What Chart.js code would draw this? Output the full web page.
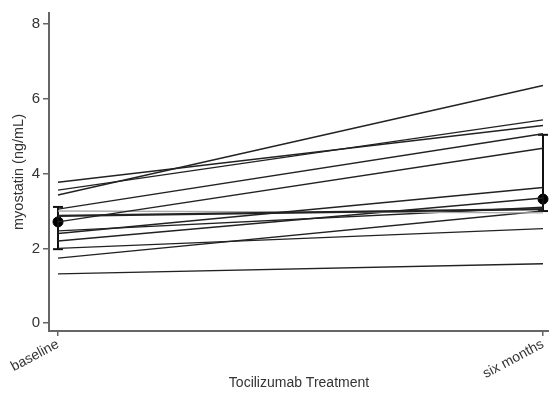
<!DOCTYPE html>
<html lang="en">
<head>
<meta charset="UTF-8">
<title>Myostatin</title>
<script src="https://cdn.jsdelivr.net/npm/chart.js@4.4.1/dist/chart.umd.min.js"></script>
<style>
    body { margin: 0; background: #fff; }
    .wrap { width: 549px; height: 395px; position: relative; }
</style>
</head>
<body>
<div class="wrap"><canvas id="c"></canvas></div>
<script>
    // categories (x = 0 baseline, x = 1 six months)
    const timepoints = ['baseline', 'six months'];
    const yTicks = [0, 2, 4, 6, 8];

    // per-patient values
    const baseline  = [3.77, 3.56, 3.43, 3.05, 2.71, 2.40, 2.87, 3.00, 2.47, 2.20, 1.74, 2.00, 1.32];
    const sixMonths = [5.29, 5.44, 6.36, 5.07, 4.68, 3.63, 3.05, 2.95, 3.10, 3.35, 3.00, 2.53, 1.59];

    // median and interquartile range
    const medians = [2.71, 3.32];
    const lowerQ  = [1.98, 3.00];
    const upperQ  = [3.11, 5.04];

    const axisColor = '#666';
    const textColor = '#333';
    const datasets = [];

    baseline.forEach((b, i) => {
        datasets.push({
            type: 'line',
            data: [{x: 0, y: b}, {x: 1, y: sixMonths[i]}],
            borderColor: i === 7 ? '#aaa' : '#222',
            borderWidth: i === 6 ? 2.2 : 1.4,
            pointRadius: 0
        });
    });

    // error bars with caps
    timepoints.forEach((t, i) => {
        datasets.push({
            type: 'line',
            data: [{x: i, y: lowerQ[i]}, {x: i, y: upperQ[i]}],
            borderColor: '#111',
            borderWidth: 2,
            pointStyle: 'line',
            pointRadius: 5,
            pointBorderWidth: 2,
            pointBorderColor: '#111'
        });
    });

    datasets.push({
        type: 'scatter',
        data: medians.map((m, i) => ({x: i, y: m})),
        backgroundColor: '#000',
        borderColor: '#000',
        pointRadius: 5
    });

    new Chart(document.getElementById('c'), {
        type: 'scatter',
        data: { datasets },
        options: {
            responsive: true,
            maintainAspectRatio: false,
            animation: false,
            layout: { autoPadding: false, padding: { top: 13, right: 0, left: 10, bottom: 0 } },
            plugins: { legend: { display: false }, tooltip: { enabled: false } },
            scales: {
                x: {
                    type: 'linear',
                    min: -0.0186,
                    max: 1.0124,
                    afterBuildTicks: s => { s.ticks = timepoints.map((t, i) => ({value: i})); },
                    afterFit: s => { s.height = 64; s.paddingRight = 0; s.paddingLeft = 0; },
                    ticks: {
                        callback: v => timepoints[v],
                        minRotation: 28,
                        maxRotation: 28,
                        color: textColor,
                        font: { family: 'Liberation Sans', size: 14 },
                        padding: 0
                    },
                    grid: { drawOnChartArea: false, tickLength: 5, color: axisColor, lineWidth: 1.5 },
                    border: { color: axisColor, width: 2 },
                    title: {
                        display: true,
                        text: 'Tocilizumab Treatment',
                        color: textColor,
                        font: { family: 'Liberation Sans', size: 14 },
                        padding: { top: 0, bottom: 3 }
                    }
                },
                y: {
                    min: -0.21,
                    max: 8.3,
                    afterBuildTicks: s => { s.ticks = yTicks.map(v => ({value: v})); },
                    afterFit: s => { s.width = 39; },
                    ticks: {
                        color: textColor,
                        font: { family: 'Liberation Sans', size: 15 },
                        padding: 3
                    },
                    grid: { drawOnChartArea: false, tickLength: 6, color: axisColor, lineWidth: 1.5 },
                    border: { color: axisColor, width: 2 },
                    title: {
                        display: true,
                        text: 'myostatin (ng/mL)',
                        color: textColor,
                        font: { family: 'Liberation Sans', size: 14.5 },
                        padding: { top: 0, bottom: 0 }
                    }
                }
            }
        }
    });
</script>
</body>
</html>
